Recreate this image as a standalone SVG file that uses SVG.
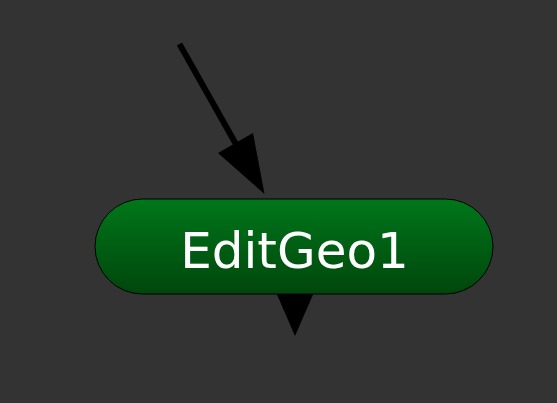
<svg xmlns="http://www.w3.org/2000/svg" width="557" height="403" viewBox="0 0 557 403">
<defs>
<linearGradient id="g" x1="0" y1="0" x2="0" y2="1">
<stop offset="0" stop-color="#00771a"/>
<stop offset="1" stop-color="#00460c"/>
</linearGradient>
<style>
.lbl{font-family:"DejaVu Sans",Verdana,sans-serif;font-size:50px;fill:#ffffff;text-anchor:middle}
</style>
</defs>
<rect width="557" height="403" fill="#333333"/>
<g id="connectors">
<line x1="179.5" y1="44" x2="237" y2="146" stroke="#000" stroke-width="6"/>
<polygon points="218,153 253,133 264.5,194" fill="#000"/>
<polygon points="275,290 315,290 295,336" fill="#000"/>
</g>
<g id="EditGeo1">
<rect x="95" y="199" width="398" height="95" rx="47.5" ry="47.5" fill="url(#g)" stroke="#000" stroke-width="1"/>
<text class="lbl" x="294.5" y="268">EditGeo1</text>
</g>
</svg>
